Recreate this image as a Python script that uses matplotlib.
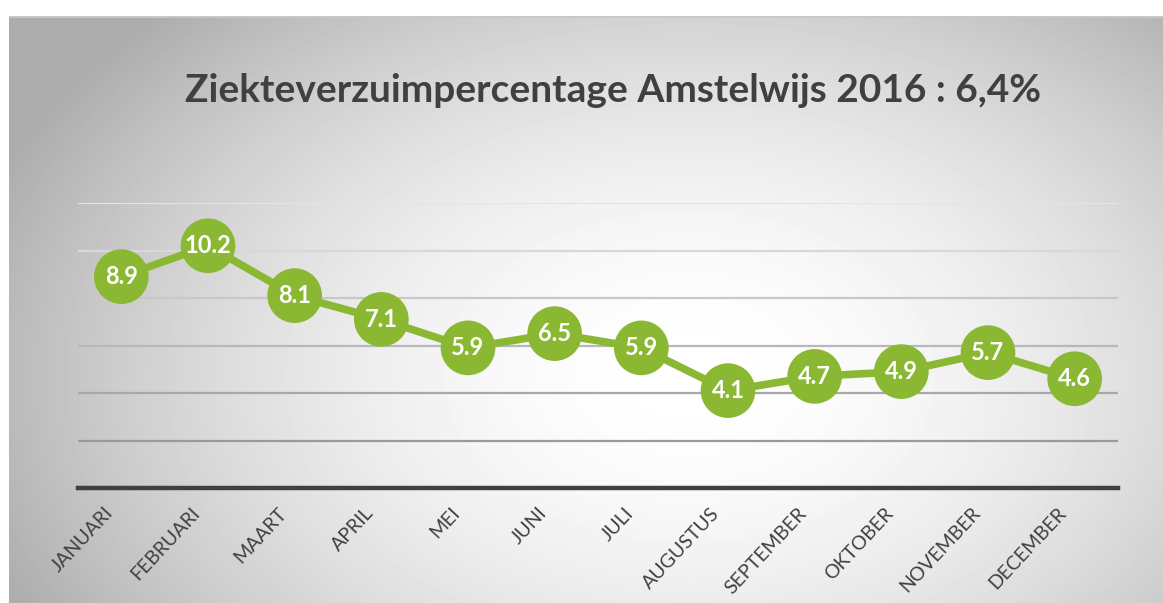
import numpy as np
import matplotlib.pyplot as plt

months = ['JANUARI', 'FEBRUARI', 'MAART', 'APRIL', 'MEI', 'JUNI', 'JULI',
          'AUGUSTUS', 'SEPTEMBER', 'OKTOBER', 'NOVEMBER', 'DECEMBER']
verzuim = [8.9, 10.2, 8.1, 7.1, 5.9, 6.5, 5.9, 4.1, 4.7, 4.9, 5.7, 4.6]
title = 'Ziekteverzuimpercentage Amstelwijs 2016 : 6,4%'

W, H = 1163, 603
green = '#8ab833'
dark = '#404040'

fig = plt.figure(figsize=(W / 100, H / 100), dpi=100)
fig.patch.set_facecolor('white')

# background with radial gradient
bg = fig.add_axes([9 / W, 0, 1 - 9 / W, 1 - 16 / H])
bg.set_axis_off()
yy, xx = np.mgrid[0:587, 0:1154]
r = np.sqrt(((xx - 680) / 680.0) ** 2 + ((yy - 360) / 460.0) ** 2)
shade = 1.0 - 0.27 * np.clip(r, 0, 1.1) ** 1.8
bg.imshow(shade, cmap='gray', vmin=0, vmax=1, aspect='auto',
          extent=[0, 1, 0, 1], origin='upper')
bg.set_xlim(0, 1)
bg.set_ylim(0, 1)
bg.axhline(1, color='#c8c8c8', lw=2)

# plot area
left, right = 78 / W, 1118 / W
bottom, top = 1 - 488 / H, 1 - 203 / H
ax = fig.add_axes([left, bottom, right - left, top - bottom])
ax.patch.set_alpha(0)
x = np.arange(len(months))
ax.set_xlim(-0.5, len(months) - 0.5)
ax.set_ylim(0, 12)

grid_cols = ['#9a9a9a', '#a8a8a8', '#b8b8b8', '#c8c8c8', '#d8d8d8', '#e4e4e4']
for i, g in enumerate(range(2, 13, 2)):
    ax.axhline(g, color=grid_cols[i], lw=1.6, zorder=1)
ax.axhline(0, color=dark, lw=3.2, zorder=2, clip_on=False)

ax.plot(x, verzuim, color=green, lw=5.5, zorder=3, solid_capstyle='round')
ax.scatter(x, verzuim, s=1550, color=green, zorder=4, edgecolors='none')
for xi, v in zip(x, verzuim):
    ax.text(xi, v, f'{v:.1f}', ha='center', va='center', color='white',
            fontsize=17, fontweight='bold', family='Lato', zorder=5)

for s in ax.spines.values():
    s.set_visible(False)
ax.set_yticks([])
ax.set_xticks(x)
ax.set_xticklabels([])
ax.tick_params(length=0)
for xi, m in zip(x, months):
    ax.annotate(m, (xi, 0), xytext=(-8, -16), textcoords='offset points',
                rotation=47, ha='right', va='center', rotation_mode='anchor',
                fontsize=14, color=dark, family='Lato',
                annotation_clip=False)

fig.text(613 / W, 1 - 90 / H, title, ha='center', va='center',
         fontsize=28, fontweight='bold', color=dark, family='Lato')

fig.savefig('out.png', dpi=100)
